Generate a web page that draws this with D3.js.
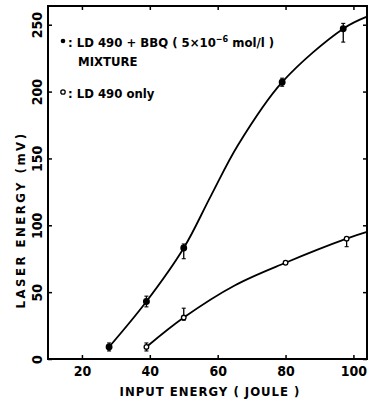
<!DOCTYPE html>
<html>
<head>
<meta charset="utf-8">
<script src="https://cdn.jsdelivr.net/npm/d3@7"></script>
<style>
  body { margin: 0; background: #fff; }
  svg { display: block; }
  text { font-family: "DejaVu Sans Condensed", "Liberation Sans Narrow", sans-serif; font-stretch: condensed; fill: #000; }
</style>
</head>
<body>
<div id="chart"></div>
<script>
// measured points (input energy J, laser energy mV)
const mixEnergy = [28, 39, 50, 79, 97];
const mixLaser = [9, 43, 83, 207, 247];
const mixErrLo = [3, 4, 8, 3, 10];
const mixErrHi = [3, 4, 3, 3, 4];

const dyeEnergy = [39, 50, 80, 98];
const dyeLaser = [9, 31, 72, 90];
const dyeErrLo = [3, 2, 1, 6];
const dyeErrHi = [3, 7, 1, 1];

// fitted curves run on to the right edge of the frame
const mixFitEnergy = [28, 39, 50, 58, 66, 79, 97, 104];
const mixFitLaser = [9, 43, 83, 122, 160, 207, 247, 256];
const dyeFitEnergy = [39, 50, 65, 80, 98, 104];
const dyeFitLaser = [9, 31, 55, 72, 90, 95];

const xTicks = [20, 40, 60, 80, 100];
const yTicks = [0, 50, 100, 150, 200, 250];

const width = 370, height = 401;
const margin = { top: 6, right: 3, bottom: 42, left: 48 };

const svg = d3.select("#chart").append("svg")
  .attr("width", width)
  .attr("height", height);

const x = d3.scaleLinear().domain([10, 104]).range([margin.left, width - margin.right]);
const y = d3.scaleLinear().domain([0, 264]).range([height - margin.bottom, margin.top]);

// frame
svg.append("rect")
  .attr("x", x.range()[0]).attr("y", y.range()[1])
  .attr("width", x.range()[1] - x.range()[0])
  .attr("height", y.range()[0] - y.range()[1])
  .attr("fill", "none").attr("stroke", "#000").attr("stroke-width", 2);

// axes, ticks pointing inward
const xAxis = svg.append("g")
  .attr("transform", `translate(0,${y(0)})`)
  .call(d3.axisBottom(x).tickValues(xTicks).tickSize(-4).tickPadding(7));
xAxis.select(".domain").remove();
xAxis.selectAll("text").attr("font-size", 14).attr("font-weight", "bold")
  .style("font-family", "'DejaVu Sans Condensed', sans-serif");

const yAxis = svg.append("g")
  .attr("transform", `translate(${x(10)},0)`)
  .call(d3.axisLeft(y).tickValues(yTicks).tickSize(-4));
yAxis.select(".domain").remove();
yAxis.selectAll("text")
  .attr("x", 0).attr("dy", "0.35em")
  .attr("transform", "translate(-11,0) rotate(-90)")
  .attr("text-anchor", "middle")
  .attr("font-size", 14).attr("font-weight", "bold")
  .style("font-family", "'DejaVu Sans Condensed', sans-serif");

const topAxis = svg.append("g")
  .attr("transform", `translate(0,${y.range()[1]})`)
  .call(d3.axisTop(x).tickValues(xTicks).tickSize(-4).tickFormat(""));
topAxis.select(".domain").remove();
const rightAxis = svg.append("g")
  .attr("transform", `translate(${x.range()[1]},0)`)
  .call(d3.axisRight(y).tickValues(yTicks).tickSize(-4).tickFormat(""));
rightAxis.select(".domain").remove();
svg.selectAll(".tick line").attr("stroke-width", 1.5);

// axis titles
svg.append("text")
  .attr("x", 210).attr("y", 396)
  .attr("text-anchor", "middle")
  .attr("font-size", 13).attr("font-weight", "bold")
  .attr("letter-spacing", 1)
  .text("INPUT  ENERGY ( JOULE )");

svg.append("text")
  .attr("transform", "translate(25,220) rotate(-90)")
  .attr("text-anchor", "middle")
  .attr("font-size", 13).attr("font-weight", "bold")
  .attr("letter-spacing", 2.5)
  .text("LASER  ENERGY  (mV)");

// curves
const line = d3.line().x(d => x(d[0])).y(d => y(d[1])).curve(d3.curveCatmullRom.alpha(0.5));
svg.append("path")
  .datum(d3.zip(mixFitEnergy, mixFitLaser))
  .attr("d", line)
  .attr("fill", "none").attr("stroke", "#000").attr("stroke-width", 1.8);
svg.append("path")
  .datum(d3.zip(dyeFitEnergy, dyeFitLaser))
  .attr("d", line)
  .attr("fill", "none").attr("stroke", "#000").attr("stroke-width", 1.8);

// error bars + markers
function drawSeries(ex, ly, lo, hi, filled) {
  const g = svg.append("g");
  const pts = ex.map((e, i) => ({ e, v: ly[i], lo: lo[i], hi: hi[i] }));
  g.selectAll("line.err").data(pts).enter().append("line")
    .attr("x1", d => x(d.e)).attr("x2", d => x(d.e))
    .attr("y1", d => y(d.v - d.lo)).attr("y2", d => y(d.v + d.hi))
    .attr("stroke", "#000").attr("stroke-width", 1.3);
  ["lo", "hi"].forEach(k => {
    g.selectAll("line.cap" + k).data(pts).enter().append("line")
      .attr("x1", d => x(d.e) - 2).attr("x2", d => x(d.e) + 2)
      .attr("y1", d => y(k === "lo" ? d.v - d.lo : d.v + d.hi))
      .attr("y2", d => y(k === "lo" ? d.v - d.lo : d.v + d.hi))
      .attr("stroke", "#000").attr("stroke-width", 1.1);
  });
  g.selectAll("circle").data(pts).enter().append("circle")
    .attr("cx", d => x(d.e)).attr("cy", d => y(d.v))
    .attr("r", filled ? 2.8 : 2.3)
    .attr("fill", filled ? "#000" : "#fff")
    .attr("stroke", "#000").attr("stroke-width", 1.3);
}
drawSeries(mixEnergy, mixLaser, mixErrLo, mixErrHi, true);
drawSeries(dyeEnergy, dyeLaser, dyeErrLo, dyeErrHi, false);

// legend
const leg = svg.append("g").attr("font-size", 13).attr("font-weight", "bold");
leg.append("circle").attr("cx", 63).attr("cy", 41).attr("r", 2.3).attr("fill", "#000");
const t1 = leg.append("text").attr("x", 68).attr("y", 47);
t1.append("tspan").text(": LD 490 + BBQ ( 5×10");
t1.append("tspan").attr("dy", -5).attr("font-size", 9).text("−6");
t1.append("tspan").attr("dy", 5).text(" mol/l  )");
leg.append("text").attr("x", 78).attr("y", 66).text("MIXTURE");
leg.append("circle").attr("cx", 63).attr("cy", 92).attr("r", 2.2)
  .attr("fill", "#fff").attr("stroke", "#000").attr("stroke-width", 1.3);
leg.append("text").attr("x", 68).attr("y", 98).text(": LD 490  only");
</script>
</body>
</html>
